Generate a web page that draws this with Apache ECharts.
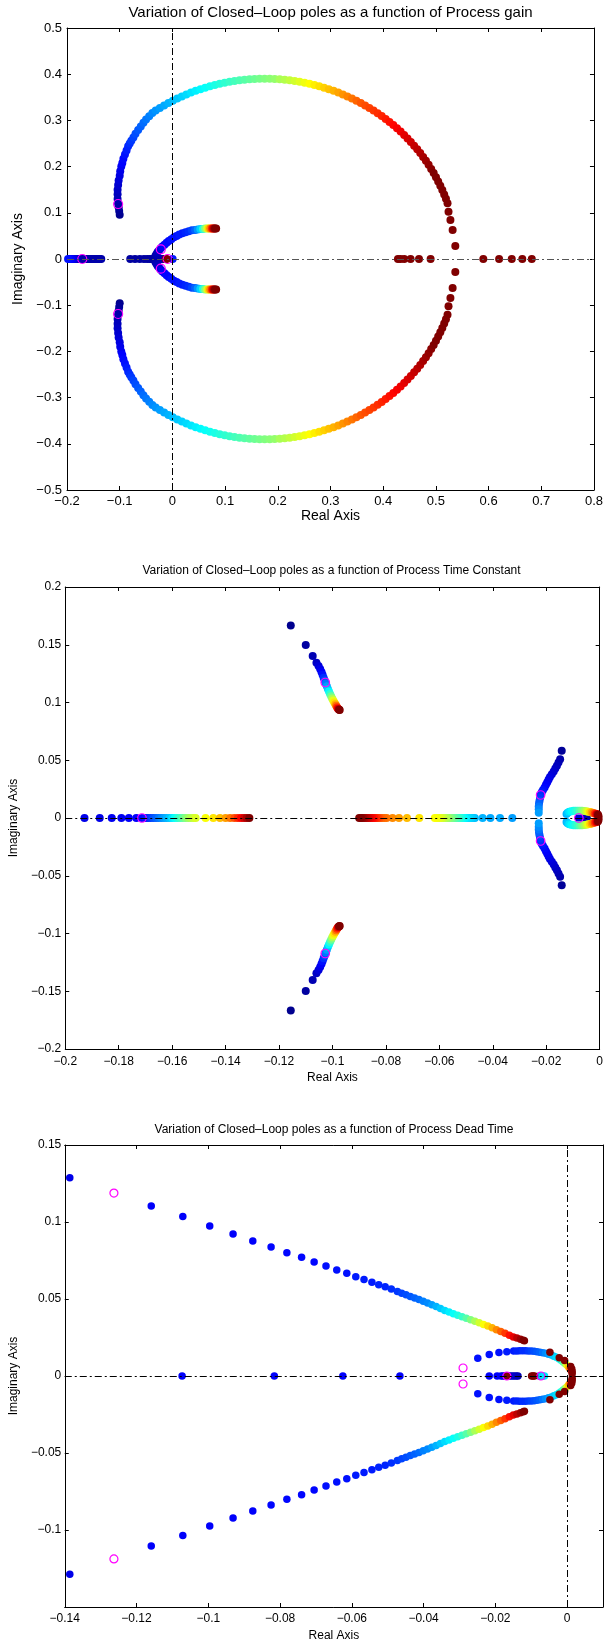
<!DOCTYPE html>
<html>
<head>
<meta charset="utf-8">
<script src="https://cdn.jsdelivr.net/npm/echarts@6/dist/echarts.min.js"></script>
<style>
html, body { margin: 0; padding: 0; background: #fff; }
#chart { width: 606px; height: 1643px; }
</style>
</head>
<body>
<div id="chart"></div>
<script>
// Closed-loop pole loci: each point is [real, imaginary, sweep position 0..1].
// The sweep position picks the colour from the jet colour map.

// ---------- Panel 1: process gain ----------
const gainArcUpper = [
  [-0.100,0.096,0.00],[-0.101,0.104,0.01],[-0.102,0.112,0.02],[-0.103,0.120,0.03],[-0.104,0.130,0.04],
  [-0.104,0.140,0.05],[-0.104,0.150,0.06],[-0.103,0.160,0.07],[-0.102,0.170,0.08],[-0.100,0.180,0.09],
  [-0.099,0.190,0.10],[-0.097,0.200,0.11],[-0.095,0.208,0.125],[-0.093,0.217,0.13],[-0.090,0.226,0.14],
  [-0.087,0.235,0.15],[-0.084,0.244,0.16],[-0.081,0.250,0.17],[-0.078,0.256,0.18],[-0.074,0.263,0.19],
  [-0.070,0.271,0.20],[-0.065,0.279,0.21],[-0.060,0.287,0.22],[-0.055,0.295,0.23],[-0.050,0.302,0.24],
  [-0.044,0.309,0.25],[-0.038,0.316,0.26],[-0.0317,0.3214,0.27],[-0.0238,0.3271,0.28],[-0.0157,0.3325,0.29],
  [-0.0075,0.3378,0.30],[0.0008,0.3427,0.31],[0.0093,0.3475,0.32],[0.0179,0.3520,0.33],[0.0265,0.3563,0.34],
  [0.0353,0.3603,0.35],[0.0442,0.3641,0.36],[0.0532,0.3676,0.37],[0.0622,0.3709,0.38],[0.0713,0.3739,0.39],
  [0.0805,0.3767,0.40],[0.0898,0.3792,0.41],[0.0991,0.3815,0.42],[0.1085,0.3835,0.43],[0.1179,0.3852,0.44],
  [0.1274,0.3867,0.45],[0.1368,0.3879,0.46],[0.1464,0.3888,0.47],[0.1559,0.3895,0.48],[0.1654,0.3899,0.49],
  [0.1750,0.3900,0.50],[0.1846,0.3899,0.51],[0.1941,0.3895,0.52],[0.2036,0.3888,0.54],[0.2132,0.3879,0.55],
  [0.2226,0.3867,0.565],[0.2321,0.3852,0.58],[0.2415,0.3835,0.595],[0.2509,0.3815,0.61],[0.2602,0.3792,0.625],
  [0.2695,0.3767,0.64],[0.2787,0.3739,0.655],[0.2878,0.3709,0.67],[0.2968,0.3676,0.685],[0.3058,0.3641,0.70],
  [0.3147,0.3603,0.715],[0.3235,0.3563,0.73],[0.3321,0.3520,0.745],[0.3407,0.3475,0.76],[0.3492,0.3427,0.775],
  [0.3575,0.3378,0.79],[0.3657,0.3325,0.80],[0.3738,0.3271,0.81],[0.3817,0.3214,0.82],[0.3895,0.3155,0.83],
  [0.3972,0.3094,0.84],[0.4047,0.3031,0.85],[0.4120,0.2966,0.86],[0.4192,0.2898,0.87],[0.4262,0.2829,0.88],
  [0.4331,0.2758,0.89],[0.4398,0.2685,0.90],[0.4462,0.2610,0.91],[0.4525,0.2533,0.92],[0.4587,0.2454,0.93],
  [0.4646,0.2374,0.94],[0.4703,0.2292,0.95],[0.4758,0.2209,0.96],[0.4811,0.2124,0.97],[0.4862,0.2038,0.98],
  [0.4911,0.1950,0.99],[0.4958,0.1861,1],[0.5002,0.1771,1],[0.5044,0.1679,1],[0.5084,0.1586,1],
  [0.5122,0.1492,1],[0.5158,0.1398,1],[0.5191,0.1302,1],[0.5221,0.1205,1],[0.5240,0.1024,1],
  [0.5276,0.0844,1],[0.5318,0.0628,1],[0.5369,0.0281,1]
];
const gainBranchUpper = [
  [-0.033,0.003,0.02],[-0.032,0.007,0.03],[-0.030,0.011,0.04],[-0.028,0.015,0.05],[-0.025,0.019,0.07],
  [-0.022,0.023,0.09],[-0.019,0.027,0.11],[-0.015,0.031,0.12],[-0.011,0.035,0.13],[-0.007,0.039,0.13],
  [-0.002,0.043,0.14],[0.003,0.047,0.14],[0.008,0.050,0.14],[0.013,0.053,0.15],[0.019,0.056,0.15],
  [0.025,0.058,0.16],[0.031,0.060,0.17],[0.037,0.062,0.19],[0.043,0.063,0.22],[0.048,0.064,0.27],
  [0.053,0.065,0.33],[0.058,0.065,0.41],[0.062,0.066,0.50],[0.066,0.066,0.59],[0.069,0.066,0.67],
  [0.072,0.066,0.75],[0.075,0.066,0.83],[0.077,0.066,0.90],[0.079,0.066,0.96],[0.081,0.066,1],[0.083,0.066,1]
];
const gainRealLeft = [
  [-0.198,0,0.14],[-0.195,0,0.13],[-0.192,0,0.12],[-0.189,0,0.10],[-0.186,0,0.08],[-0.183,0,0.06],
  [-0.180,0,0.04],[-0.177,0,0.03],[-0.174,0,0.03],[-0.171,0,0.03],[-0.168,0,0.03],[-0.165,0,0.03],
  [-0.162,0,0.03],[-0.159,0,0.03],[-0.156,0,0.03],[-0.153,0,0.03],[-0.150,0,0.03],[-0.147,0,0.03],
  [-0.144,0,0.03],[-0.141,0,0.03],[-0.138,0,0.03],[-0.135,0,0.03]
];
const gainRealMid = [
  [-0.080,0,0.02],[-0.071,0,0.02],[-0.062,0,0.02],[-0.054,0,0.02],[-0.048,0,0.02],[-0.043,0,0.02],
  [-0.039,0,0.02],[-0.036,0,0.02],[-0.033,0,0.02],[-0.030,0,0.02],[-0.027,0,0.03],[-0.024,0,0.03],
  [-0.021,0,0.03],[-0.018,0,0.04],[-0.0127,0,1],[-0.0110,0,1],[0.0005,0,0.15]
];
const gainRealRight = [
  [0.428,0,1],[0.433,0,1],[0.440,0,1],[0.452,0,1],[0.468,0,1],[0.490,0,1],
  [0.590,0,1],[0.620,0,1],[0.644,0,1],[0.664,0,1],[0.682,0,1]
];
const gainMarkers = [[-0.103,0.119],[-0.103,-0.119],[-0.171,0],[-0.022,0.021],[-0.022,-0.021],[-0.009,0]];
const gainRealTicks = [-0.2,-0.1,0,0.1,0.2,0.3,0.4,0.5,0.6,0.7,0.8];
const gainImagTicks = [-0.5,-0.4,-0.3,-0.2,-0.1,0,0.1,0.2,0.3,0.4,0.5];

// ---------- Panel 2: process time constant ----------
const tcBranchUpper = [
  [-0.1156,0.1666,0.00],[-0.1100,0.1498,0.02],[-0.1074,0.1402,0.04],[-0.1060,0.1345,0.06],[-0.1052,0.1315,0.08],
  [-0.1046,0.1290,0.10],[-0.1041,0.1265,0.12],[-0.1037,0.1240,0.14],[-0.1033,0.1215,0.17],[-0.1029,0.1190,0.20],
  [-0.1025,0.1165,0.24],[-0.1021,0.1140,0.28],[-0.1017,0.1117,0.32],[-0.1013,0.1095,0.37],[-0.1009,0.1074,0.42],
  [-0.1005,0.1054,0.48],[-0.1001,0.1035,0.54],[-0.0997,0.1017,0.60],[-0.0993,0.1000,0.65],[-0.0989,0.0985,0.70],
  [-0.0986,0.0971,0.76],[-0.0983,0.0959,0.82],[-0.0980,0.0949,0.88],[-0.0977,0.0942,0.94],[-0.0975,0.0937,1],
  [-0.0973,0.0935,1]
];
const tcRealLeft = [
  [-0.1928,0,0.10],[-0.1871,0,0.10],[-0.1826,0,0.11],[-0.1790,0,0.11],[-0.1762,0,0.12],[-0.1734,0,0.12],
  [-0.1713,0,0.13],[-0.1700,0,0.14],[-0.1690,0,0.16],[-0.1680,0,0.18],[-0.1670,0,0.20],[-0.1660,0,0.22],
  [-0.1650,0,0.24],[-0.1640,0,0.26],[-0.1630,0,0.28],[-0.1620,0,0.30],[-0.1610,0,0.32],[-0.1600,0,0.35],
  [-0.1590,0,0.38],[-0.1580,0,0.41],[-0.1570,0,0.44],[-0.1560,0,0.47],[-0.1550,0,0.50],[-0.1540,0,0.53],
  [-0.1530,0,0.55],[-0.1520,0,0.57],[-0.1512,0,0.59],[-0.1475,0,0.62],[-0.1446,0,0.65],[-0.1421,0,0.69],
  [-0.1400,0,0.72],[-0.1383,0,0.76],[-0.1367,0,0.80],[-0.1354,0,0.84],[-0.1342,0,0.88],[-0.1331,0,0.92],
  [-0.1321,0,0.96],[-0.1311,0,1]
];
const tcRealMid = [
  [-0.0900,0,1],[-0.0893,0,1],[-0.0886,0,0.98],[-0.0879,0,0.96],[-0.0872,0,0.94],[-0.0865,0,0.92],
  [-0.0858,0,0.90],[-0.0851,0,0.88],[-0.0844,0,0.86],[-0.0837,0,0.84],[-0.0830,0,0.82],[-0.0823,0,0.80],
  [-0.0815,0,0.78],[-0.0806,0,0.77],[-0.0797,0,0.76],[-0.0775,0,0.74],[-0.0751,0,0.72],[-0.0721,0,0.69],
  [-0.0675,0,0.65],[-0.0617,0,0.62],[-0.0609,0,0.61],[-0.0601,0,0.60],[-0.0593,0,0.59],[-0.0585,0,0.57],
  [-0.0577,0,0.55],[-0.0569,0,0.53],[-0.0561,0,0.51],[-0.0553,0,0.49],[-0.0545,0,0.47],[-0.0537,0,0.45],
  [-0.0529,0,0.43],[-0.0521,0,0.41],[-0.0513,0,0.39],[-0.0505,0,0.37],[-0.0497,0,0.35],[-0.0489,0,0.34],
  [-0.0481,0,0.33],[-0.0473,0,0.32],[-0.0467,0,0.31],[-0.0438,0,0.30],[-0.0409,0,0.29],[-0.0373,0,0.29],
  [-0.0327,0,0.28]
];
const tcSideBranchUpper = [
  [-0.0228,0.0045,0.28],[-0.0228,0.0075,0.26],[-0.0228,0.0100,0.24],[-0.0227,0.0125,0.22],[-0.0225,0.0150,0.20],
  [-0.0223,0.0175,0.18],[-0.0221,0.0199,0.17],[-0.0217,0.0222,0.15],[-0.0212,0.0243,0.14],[-0.0206,0.0265,0.13],
  [-0.0201,0.0287,0.12],[-0.0196,0.0310,0.11],[-0.0191,0.0333,0.10],[-0.0186,0.0356,0.09],[-0.0179,0.0378,0.08],
  [-0.0172,0.0403,0.07],[-0.0166,0.0428,0.06],[-0.0160,0.0453,0.05],[-0.0154,0.0480,0.04],[-0.0148,0.0508,0.03],
  [-0.0142,0.0582,0.01]
];
const tcLoopUpper = [
  [-0.0124,0.0035,0.30],[-0.0120,0.0046,0.32],[-0.0114,0.0054,0.35],[-0.0106,0.0059,0.37],[-0.0098,0.0062,0.39],
  [-0.0090,0.0063,0.41],[-0.0082,0.0063,0.43],[-0.0074,0.0063,0.46],[-0.0066,0.0062,0.49],[-0.0058,0.0060,0.53],
  [-0.0050,0.0058,0.57],[-0.0043,0.0055,0.61],[-0.0036,0.0051,0.66],[-0.0030,0.0047,0.71],[-0.0024,0.0043,0.76],
  [-0.0018,0.0039,0.82],[-0.0013,0.0035,0.88],[-0.0009,0.0032,0.94],[-0.0006,0.0029,1],[-0.0004,0.0012,1]
];
const tcRealNearOrigin = [
  [-0.0078,0,0.08],[-0.0072,0,0.06],[-0.0066,0,0.05],[-0.0060,0,0.04],[-0.0054,0,0.03],[-0.0048,0,0.02]
];
const tcMarkers = [[-0.1027,0.1173],[-0.1027,-0.1173],[-0.1713,0],[-0.0221,0.0199],[-0.0221,-0.0199],[-0.0078,0]];
const tcRealTicks = [-0.2,-0.18,-0.16,-0.14,-0.12,-0.1,-0.08,-0.06,-0.04,-0.02,0];
const tcImagTicks = [-0.2,-0.15,-0.1,-0.05,0,0.05,0.1,0.15,0.2];

// ---------- Panel 3: process dead time ----------
const dtBranchUpper = [
  [-0.1386,0.1288,0.10],[-0.1159,0.1104,0.12],[-0.1071,0.1035,0.12],[-0.0996,0.0974,0.12],[-0.0931,0.0922,0.12],
  [-0.0876,0.0877,0.12],[-0.0825,0.0838,0.13],[-0.0781,0.0801,0.13],[-0.0740,0.0771,0.13],[-0.0705,0.0740,0.13],
  [-0.0672,0.0714,0.14],[-0.0642,0.0688,0.14],[-0.0614,0.0667,0.14],[-0.0589,0.0645,0.15],[-0.0566,0.0626,0.15],
  [-0.0544,0.0608,0.15],[-0.0525,0.0593,0.16],[-0.0507,0.0580,0.16],[-0.0490,0.0565,0.17],[-0.0473,0.0548,0.18],
  [-0.0461,0.0538,0.19],[-0.0449,0.0527,0.20],[-0.0437,0.0517,0.21],[-0.0425,0.0506,0.22],[-0.0413,0.0496,0.23],
  [-0.0401,0.0485,0.25],[-0.0389,0.0474,0.26],[-0.0377,0.0463,0.28],[-0.0365,0.0451,0.30],[-0.0353,0.0439,0.32],
  [-0.0341,0.0426,0.34],[-0.0329,0.0415,0.36],[-0.0317,0.0405,0.38],[-0.0305,0.0395,0.40],[-0.0293,0.0385,0.43],
  [-0.0281,0.0375,0.46],[-0.0269,0.0365,0.50],[-0.0257,0.0355,0.54],[-0.0245,0.0345,0.58],[-0.0233,0.0335,0.62],
  [-0.0221,0.0324,0.66],[-0.0209,0.0313,0.70],[-0.0197,0.0301,0.74],[-0.0185,0.0289,0.78],[-0.0173,0.0277,0.82],
  [-0.0161,0.0265,0.86],[-0.0150,0.0254,0.90],[-0.0140,0.0246,0.94],[-0.0130,0.0238,0.97],[-0.0122,0.0232,1],
  [-0.0119,0.0229,1]
];
const dtLoopUpper = [
  [-0.0249,0.0115,0.14],[-0.0217,0.0139,0.14],[-0.0190,0.0152,0.14],[-0.0168,0.0158,0.15],[-0.0149,0.0162,0.15],
  [-0.0140,0.0163,0.16],[-0.0132,0.0164,0.16],[-0.0124,0.0164,0.17],[-0.0116,0.0164,0.17],[-0.0108,0.0163,0.18],
  [-0.0100,0.0162,0.19],[-0.0092,0.0160,0.20],[-0.0084,0.0158,0.21],[-0.0076,0.0155,0.22],[-0.0068,0.0151,0.24],
  [-0.0060,0.0147,0.26],[-0.0052,0.0142,0.28],[-0.0044,0.0136,0.30],[-0.0037,0.0129,0.32],[-0.0030,0.0121,0.34],
  [-0.0023,0.0112,0.37],[-0.0017,0.0102,0.40],[-0.0011,0.0091,0.45],[-0.0005,0.0080,0.52],[0.0000,0.0069,0.60],
  [0.0004,0.0058,0.68],[0.0008,0.0047,0.76],[0.0011,0.0036,0.84]
];
const dtTailUpper = [
  [-0.0048,0.0154,1],[-0.0022,0.0119,1],[-0.0007,0.0100,1],[0.0010,0.0062,1],[0.0013,0.0045,1],
  [0.0014,0.0030,1],[0.0014,0.0015,1]
];
const dtReal = [
  [-0.1073,0,0.12],[-0.0816,0,0.12],[-0.0625,0,0.12],[-0.0466,0,0.12],[-0.0217,0,0.12],[-0.0195,0,0.12],
  [-0.0184,0,0.10],[-0.0178,0,0.09],[-0.0172,0,0.08],[-0.0160,0,0.07],[-0.0154,0,0.06],[-0.0148,0,0.05],
  [-0.0142,0,0.05],[-0.0137,0,0.04],[-0.0078,0,0.28],[-0.0073,0,0.30],[-0.0068,0,0.33],[-0.0063,0,0.35],
  [-0.0166,0,1],[-0.0099,0,1],[-0.0095,0,1],[-0.0091,0,1]
];
const dtMarkers = [[-0.1263,0.1188],[-0.1263,-0.1188],[-0.0290,0.0052],[-0.0290,-0.0052],[-0.0168,0],[-0.0073,0]];
const dtRealTicks = [-0.14,-0.12,-0.1,-0.08,-0.06,-0.04,-0.02,0];
const dtImagTicks = [-0.1,-0.05,0,0.05,0.1,0.15];

// ---------- helpers ----------
const FONT = '"Liberation Sans", Arial, Helvetica, sans-serif';
const JET = ['#00008f','#0000ff','#0080ff','#00ffff','#80ff80','#ffff00','#ff8000','#ff0000','#800000'];

// complex poles come in conjugate pairs
function conjugate(pts) { return pts.map(p => [p[0], -p[1], p[2]]); }
// later sweep values are drawn on top of earlier ones
function bySweep(...groups) { return [].concat(...groups).sort((a, b) => a[2] - b[2]); }

function tickText(v) {
  const r = Math.round(v * 1e6) / 1e6;
  return (r === 0 ? '0' : String(r)).replace('-', '\u2212');
}
function labelFor(ticks) {
  return v => ticks.some(t => Math.abs(t - v) < 1e-9) ? tickText(v) : '';
}

const panels = [
  {
    title: 'Variation of Closed\u2013Loop poles as a function of Process gain',
    titleSize: 15, titleTop: 5, labelSize: 13, nameSize: 14,
    grid: { left: 67, top: 28, width: 527, height: 462 },
    x: { min: -0.2, max: 0.8, interval: 0.1, ticks: gainRealTicks, margin: 5, nameGap: 17 },
    y: { min: -0.5, max: 0.5, interval: 0.1, ticks: gainImagTicks, margin: 5, nameGap: 40 },
    locus: bySweep(gainArcUpper, conjugate(gainArcUpper), gainBranchUpper, conjugate(gainBranchUpper),
                   gainRealLeft, gainRealMid, gainRealRight),
    markers: gainMarkers, dot: 8, ring: 9, vertical: true, axisLineColor: '#555'
  },
  {
    title: 'Variation of Closed\u2013Loop poles as a function of Process Time Constant',
    titleSize: 12, titleTop: 565, labelSize: 12, nameSize: 12,
    grid: { left: 62, top: 587, width: 539, height: 462 },
    x: { min: -0.2, max: 0, interval: 0.02, ticks: tcRealTicks, margin: 7, nameGap: 23 },
    y: { min: -0.2, max: 0.2, interval: 0.05, ticks: tcImagTicks, margin: 4, nameGap: 40 },
    locus: bySweep(tcBranchUpper, conjugate(tcBranchUpper), tcRealLeft, tcRealMid,
                   tcSideBranchUpper, conjugate(tcSideBranchUpper), tcLoopUpper, conjugate(tcLoopUpper),
                   tcRealNearOrigin),
    markers: tcMarkers, dot: 8, ring: 8.5, vertical: false, axisLineColor: '#000'
  },
  {
    title: 'Variation of Closed\u2013Loop poles as a function of Process Dead Time',
    titleSize: 12, titleTop: 1124, labelSize: 12, nameSize: 12,
    grid: { left: 63, top: 1145, width: 542, height: 463 },
    x: { min: -0.14, max: 0.01, interval: 0.02, ticks: dtRealTicks, margin: 6, nameGap: 23 },
    y: { min: -0.15, max: 0.15, interval: 0.05, ticks: dtImagTicks, margin: 3.5, nameGap: 41 },
    locus: bySweep(dtBranchUpper, conjugate(dtBranchUpper), dtLoopUpper, conjugate(dtLoopUpper),
                   dtTailUpper, conjugate(dtTailUpper), dtReal),
    markers: dtMarkers, dot: 7.5, ring: 8, vertical: true, axisLineColor: '#000'
  }
];

const option = {
  animation: false,
  backgroundColor: '#fff',
  textStyle: { fontFamily: FONT, color: '#000' },
  title: [], grid: [], xAxis: [], yAxis: [], series: [],
  visualMap: {
    type: 'continuous', show: false, dimension: 2, min: 0, max: 1,
    seriesIndex: [], inRange: { color: JET }
  }
};

const frameLine = { show: true, onZero: false, lineStyle: { color: '#000', width: 1 } };
const innerTick = { show: true, inside: true, length: 4, lineStyle: { color: '#000', width: 1 } };

panels.forEach((p, i) => {
  const g = p.grid;
  option.title.push({
    text: p.title, left: g.left + g.width / 2, top: p.titleTop, textAlign: 'center', padding: 0,
    textStyle: { fontFamily: FONT, fontSize: p.titleSize, fontWeight: 'normal', color: '#000' }
  });
  option.grid.push(Object.assign({ containLabel: false }, g));

  const labelStyle = { color: '#000', fontFamily: FONT, fontSize: p.labelSize };
  option.xAxis.push({
    type: 'value', gridIndex: i, position: 'bottom',
    min: p.x.min, max: p.x.max, interval: p.x.interval,
    name: 'Real Axis', nameLocation: 'middle', nameGap: p.x.nameGap,
    nameTextStyle: { color: '#000', fontFamily: FONT, fontSize: p.nameSize },
    axisLine: frameLine, axisTick: innerTick, splitLine: { show: false },
    axisLabel: Object.assign({ margin: p.x.margin, formatter: labelFor(p.x.ticks), hideOverlap: false }, labelStyle)
  });
  option.xAxis.push({
    type: 'value', gridIndex: i, position: 'top',
    min: p.x.min, max: p.x.max, interval: p.x.interval,
    axisLine: frameLine, axisTick: innerTick, splitLine: { show: false }, axisLabel: { show: false }
  });
  option.yAxis.push({
    type: 'value', gridIndex: i, position: 'left',
    min: p.y.min, max: p.y.max, interval: p.y.interval,
    name: 'Imaginary Axis', nameLocation: 'middle', nameGap: p.y.nameGap,
    nameTextStyle: { color: '#000', fontFamily: FONT, fontSize: p.nameSize },
    axisLine: frameLine, axisTick: innerTick, splitLine: { show: false },
    axisLabel: Object.assign({ margin: p.y.margin, formatter: labelFor(p.y.ticks), hideOverlap: false }, labelStyle)
  });
  option.yAxis.push({
    type: 'value', gridIndex: i, position: 'right',
    min: p.y.min, max: p.y.max, interval: p.y.interval,
    axisLine: frameLine, axisTick: innerTick, splitLine: { show: false }, axisLabel: { show: false }
  });

  const xi = 2 * i, yi = 2 * i;
  const dashDot = [7, 3, 2, 3];
  const refLines = [{ yAxis: 0, lineStyle: { color: p.axisLineColor, width: 1, type: dashDot } }];
  if (p.vertical) refLines.push({ xAxis: 0, lineStyle: { color: '#000', width: 1, type: dashDot } });
  // dash-dot reference lines through the origin
  option.series.push({
    type: 'line', xAxisIndex: xi, yAxisIndex: yi, data: [], silent: true, z: 1,
    markLine: {
      silent: true, symbol: ['none', 'none'], label: { show: false }, animation: false,
      lineStyle: { color: '#000', width: 1, type: dashDot },
      emphasis: { disabled: true },
      data: refLines
    }
  });
  option.visualMap.seriesIndex.push(option.series.length);
  option.series.push({
    type: 'scatter', xAxisIndex: xi, yAxisIndex: yi, data: p.locus, silent: true, z: 2,
    symbol: 'circle', symbolSize: p.dot, itemStyle: { opacity: 1 }
  });
  option.series.push({
    type: 'scatter', xAxisIndex: xi, yAxisIndex: yi, data: p.markers, silent: true, z: 3,
    symbol: 'circle', symbolSize: p.ring,
    itemStyle: { color: 'rgba(0,0,0,0)', borderColor: '#ff00ff', borderWidth: 1.2, opacity: 1 }
  });
});

const chart = echarts.init(document.getElementById('chart'), null, { renderer: 'canvas', width: 606, height: 1643 });
chart.setOption(option);
</script>
</body>
</html>
